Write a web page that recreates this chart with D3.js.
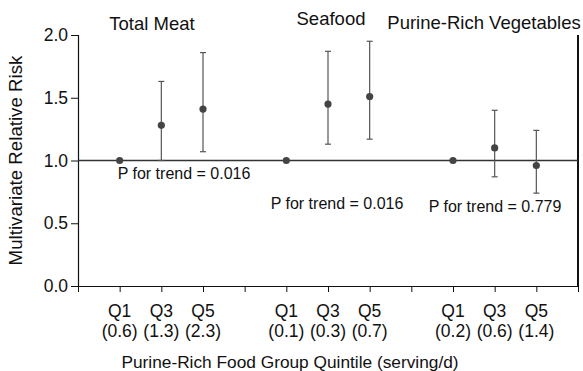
<!DOCTYPE html>
<html>
<head>
<meta charset="utf-8">
<script src="https://cdn.jsdelivr.net/npm/d3@7/dist/d3.min.js"></script>
<style>
  body { margin: 0; background: #fff; }
  svg { display: block; font-family: "Liberation Sans", Arial, Helvetica, sans-serif; }
</style>
</head>
<body>
<div id="chart"></div>
<script>
// ── Data ──────────────────────────────────────────────────────────────
const groups    = ['Total Meat', 'Seafood', 'Purine-Rich Vegetables'];
const quintiles = ['Q1', 'Q3', 'Q5'];
const servings  = [['(0.6)', '(1.3)', '(2.3)'], ['(0.1)', '(0.3)', '(0.7)'], ['(0.2)', '(0.6)', '(1.4)']];
const rr        = [[1.00, 1.28, 1.41], [1.00, 1.45, 1.51], [1.00, 1.10, 0.96]];
const ciLow     = [[null, 1.00, 1.07], [null, 1.13, 1.17], [null, 0.87, 0.74]];
const ciHigh    = [[null, 1.63, 1.86], [null, 1.87, 1.95], [null, 1.40, 1.24]];
const pTrend    = ['0.016', '0.016', '0.779'];
const yTicks    = [0, 0.5, 1.0, 1.5, 2.0];

// ── Layout ────────────────────────────────────────────────────────────
const W = 583, H = 371;
const m = { top: 35, right: 5, bottom: 85, left: 78 };
const iw = W - m.left - m.right, ih = H - m.top - m.bottom;

// title and p-value label placement (pixels, relative to svg)
const titlePos = [{ x: 152, y: 30 }, { x: 331, y: 25 }, { x: 484, y: 29 }];
const pPos     = [{ x: 184, y: 179 }, { x: 337, y: 209 }, { x: 495, y: 212 }];

const slot = (g, q) => g * 4 + q + 1;

const x = d3.scaleLinear().domain([0, 12]).range([0, iw]);
const y = d3.scaleLinear().domain([0, 2]).range([ih, 0]);

const svg = d3.select('#chart').append('svg').attr('width', W).attr('height', H);
const g = svg.append('g').attr('transform', `translate(${m.left},${m.top})`);

// y axis
const yAxis = g.append('g')
  .call(d3.axisLeft(y).tickValues(yTicks).tickFormat(d3.format('.1f')).tickSize(7).tickPadding(3));
yAxis.select('.domain').attr('stroke', '#111').attr('stroke-width', 1.2);
yAxis.selectAll('.tick line').attr('stroke', '#111');
yAxis.selectAll('text').attr('font-size', 17.5).attr('fill', '#111').attr('font-family', null);

// x axis with ticks at every slot
const xAxis = g.append('g').attr('transform', `translate(0,${ih})`)
  .call(d3.axisBottom(x).tickValues(d3.range(0, 13)).tickFormat('').tickSize(6).tickSizeOuter(0));
xAxis.select('.domain').attr('stroke', '#111').attr('stroke-width', 1.2);
xAxis.selectAll('.tick line').attr('stroke', '#111');

// right border
g.append('line')
  .attr('x1', iw).attr('x2', iw).attr('y1', 0).attr('y2', ih)
  .attr('stroke', '#111').attr('stroke-width', 2);

// reference line at 1.0
g.append('line')
  .attr('x1', 0).attr('x2', iw).attr('y1', y(1)).attr('y2', y(1))
  .attr('stroke', '#333').attr('stroke-width', 1.3);

// points & error bars
const pts = [];
groups.forEach((_, gi) => quintiles.forEach((q, qi) => {
  pts.push({ s: slot(gi, qi), v: rr[gi][qi], lo: ciLow[gi][qi], hi: ciHigh[gi][qi], q, serv: servings[gi][qi] });
}));

const bars = pts.filter(d => d.lo != null);
const bar = g.selectAll('.err').data(bars).join('g').attr('class', 'err')
  .attr('stroke', '#555').attr('stroke-width', 1.2);
bar.append('line')
  .attr('x1', d => x(d.s)).attr('x2', d => x(d.s))
  .attr('y1', d => y(d.lo)).attr('y2', d => y(d.hi));
bar.append('line')
  .attr('x1', d => x(d.s) - 3).attr('x2', d => x(d.s) + 3)
  .attr('y1', d => y(d.hi)).attr('y2', d => y(d.hi));
bar.append('line')
  .attr('x1', d => x(d.s) - 3).attr('x2', d => x(d.s) + 3)
  .attr('y1', d => y(d.lo)).attr('y2', d => y(d.lo));

g.selectAll('.pt').data(pts).join('circle').attr('class', 'pt')
  .attr('cx', d => x(d.s)).attr('cy', d => y(d.v)).attr('r', 3.6)
  .attr('fill', '#444');

// x tick labels (two lines)
const lab = g.selectAll('.xl').data(pts).join('text').attr('class', 'xl')
  .attr('text-anchor', 'middle').attr('font-size', 17.5).attr('fill', '#111');
lab.append('tspan').attr('x', d => x(d.s)).attr('y', ih + 31).text(d => d.q);
lab.append('tspan').attr('x', d => x(d.s)).attr('y', ih + 51).text(d => d.serv);

// group titles
svg.selectAll('.title').data(groups).join('text').attr('class', 'title')
  .attr('x', (d, i) => titlePos[i].x).attr('y', (d, i) => titlePos[i].y)
  .attr('text-anchor', 'middle').attr('font-size', 18.5).attr('fill', '#111')
  .text(d => d);

// P for trend
svg.selectAll('.ptrend').data(pTrend).join('text').attr('class', 'ptrend')
  .attr('x', (d, i) => pPos[i].x).attr('y', (d, i) => pPos[i].y)
  .attr('text-anchor', 'middle').attr('font-size', 16).attr('fill', '#111')
  .text(d => `P for trend = ${d}`);

// axis titles
svg.append('text')
  .attr('transform', `translate(22,${m.top + ih / 2}) rotate(-90)`)
  .attr('text-anchor', 'middle').attr('font-size', 18.7).attr('fill', '#111')
  .text('Multivariate Relative Risk');

svg.append('text')
  .attr('x', 290).attr('y', 368)
  .attr('text-anchor', 'middle').attr('font-size', 17.3).attr('fill', '#111')
  .text('Purine-Rich Food Group Quintile (serving/d)');
</script>
</body>
</html>
